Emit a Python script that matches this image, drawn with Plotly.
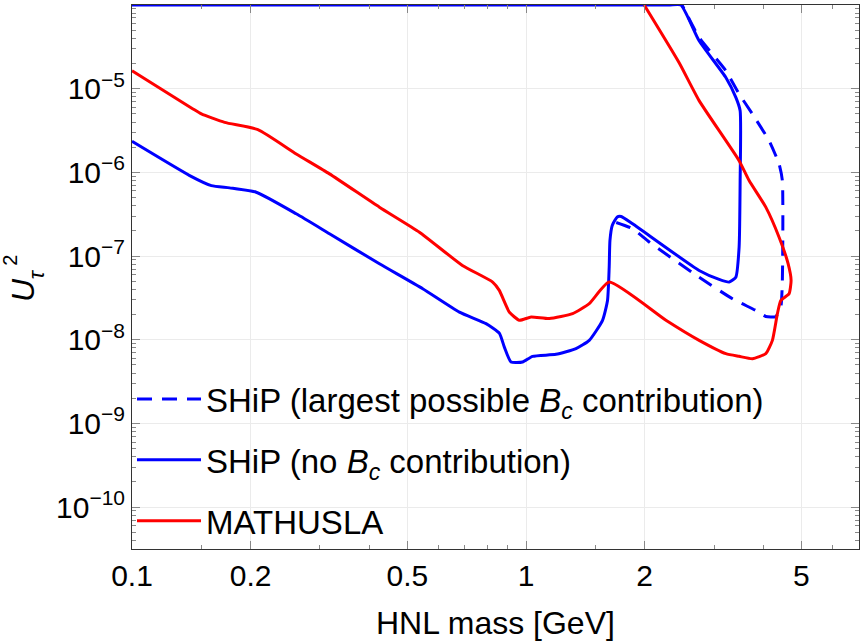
import plotly.graph_objects as go

# ---- data (HNL mass in GeV, U_tau^2) ----
ship_bc_mass = [1.694, 1.864, 2.054, 2.750, 3.341, 3.830, 4.06, 4.304, 4.432, 4.473,
                4.473, 4.388, 4.14, 3.755, 3.474, 3.215, 2.75, 2.49]
ship_bc_u2 = [2.52e-7, 2.12e-7, 1.47e-7, 5.6e-8, 3.09e-8, 2.24e-8, 1.9e-8, 1.89e-8, 2.45e-8, 5.12e-8,
              7.98e-7, 1.26e-6, 2.39e-6, 4.99e-6, 8.65e-6, 1.64e-5, 4.09e-5, 1e-4]

ship_mass = [0.1, 0.1401, 0.1590, 0.1769, 0.2067, 0.2611, 0.3171, 0.4246, 0.5468, 0.6775,
             0.7916, 0.8555, 0.881, 0.9161, 0.980, 1.039, 1.191, 1.339, 1.447, 1.564,
             1.610, 1.626, 1.633, 1.655, 1.704, 1.744, 1.864, 2.750, 3.091, 3.278,
             3.408, 3.474, 3.495, 3.495, 3.408, 3.215, 2.750, 2.472, 2.3, 0.1]
ship_u2 = [2.35e-6, 9.16e-7, 6.95e-7, 6.53e-7, 5.79e-7, 3.2e-7, 1.85e-7, 8.09e-8, 4.07e-8, 2.14e-8,
           1.56e-8, 1.2e-8, 8.18e-9, 5.42e-9, 5.42e-9, 6.34e-9, 6.7e-9, 7.83e-9, 9.84e-9, 1.71e-8,
           2.95e-8, 7.38e-8, 1.53e-7, 2.32e-7, 2.93e-7, 2.97e-7, 2.43e-7, 6.73e-8, 5.26e-8, 4.89e-8,
           5.6e-8, 1.28e-7, 7.98e-7, 5.46e-6, 7.88e-6, 1.36e-5, 3.74e-5, 1e-4, 1e-4, 1e-4]

mathusla_mass = [0.1, 0.1428, 0.150, 0.1718, 0.2087, 0.2611, 0.3171, 0.4246, 0.5364, 0.6895,
                 0.8229, 0.8555, 0.9072, 0.9616, 1.030, 1.146, 1.313, 1.447, 1.626, 2.265,
                 2.75, 3.215, 3.474, 3.755, 4.06, 4.22, 4.345, 4.432, 4.652, 4.707,
                 4.624, 4.388, 4.06, 3.683, 3.474, 2.750, 2.447, 1.995]
mathusla_u2 = [1.64e-5, 5.73e-6, 4.99e-6, 3.96e-6, 3.24e-6, 1.66e-6, 9.6e-7, 3.84e-7, 1.93e-7, 7.73e-8,
               4.89e-8, 3.89e-8, 2.14e-8, 1.71e-8, 1.87e-8, 1.79e-8, 2.05e-8, 2.70e-8, 4.89e-8, 1.71e-8,
               9.84e-9, 6.83e-9, 6.34e-9, 5.94e-9, 6.83e-9, 9.84e-9, 2.05e-8, 2.95e-8, 3.55e-8, 5.12e-8,
               8.17e-8, 1.68e-7, 3.84e-7, 7.98e-7, 1.38e-6, 7.2e-6, 2.04e-5, 1e-4]

x_tickvals = [0.1, 0.2, 0.5, 1, 2, 5]
x_ticktext = ["0.1", "0.2", "0.5", "1", "2", "5"]
x_minor = [0.15, 0.3, 0.4, 0.6, 0.7, 0.8, 0.9, 1.5, 3, 4, 6, 7]
y_tickvals = [1e-10, 1e-9, 1e-8, 1e-7, 1e-6, 1e-5]
y_ticktext = ["10<sup>\u221210</sup>", "10<sup>\u22129</sup>", "10<sup>\u22128</sup>",
              "10<sup>\u22127</sup>", "10<sup>\u22126</sup>", "10<sup>\u22125</sup>"]
y_minor = [k * 10.0 ** d for d in range(-11, -4) for k in range(2, 10)]

names = ["SHiP (largest possible <i>B<sub>c</sub></i> contribution)",
         "SHiP (no <i>B<sub>c</sub></i> contribution)",
         "MATHUSLA"]

FONT = "Liberation Sans, Arial, sans-serif"
BLUE = "#0000ff"
RED = "#ff0000"

fig = go.Figure()
fig.add_trace(go.Scatter(x=ship_bc_mass, y=ship_bc_u2, mode="lines", name=names[0],
                         legendgroup="a",
                         line=dict(color=BLUE, width=3, dash="15px,10px", shape="spline", smoothing=0.5)))
fig.add_trace(go.Scatter(x=ship_mass, y=ship_u2, mode="lines", name=names[1],
                         legendgroup="b",
                         line=dict(color=BLUE, width=3, shape="spline", smoothing=0.5)))
fig.add_trace(go.Scatter(x=mathusla_mass, y=mathusla_u2, mode="lines", name=names[2],
                         legendgroup="c",
                         line=dict(color=RED, width=3, shape="spline", smoothing=0.5)))

axis_common = dict(
    type="log", showline=True, linecolor="#333333", linewidth=1, mirror="allticks",
    ticks="inside", ticklen=8, tickcolor="#888888", tickwidth=1,
    showgrid=True, gridcolor="#ebebeb", gridwidth=1, zeroline=False,
    tickfont=dict(family=FONT, size=30, color="#000000"),
)

fig.update_layout(
    width=865, height=642,
    margin=dict(l=132, r=6, t=5, b=93),
    paper_bgcolor="white", plot_bgcolor="white",
    font=dict(family=FONT, color="#000000"),
    xaxis=dict(axis_common, range=[-1, 0.8451], tickmode="array",
               tickvals=x_tickvals, ticktext=x_ticktext,
               minor=dict(tickmode="array", tickvals=x_minor, ticks="inside", ticklen=4,
                          tickcolor="#888888", showgrid=False)),
    yaxis=dict(axis_common, range=[-10.5, -4.0], tickmode="array",
               tickvals=y_tickvals, ticktext=y_ticktext,
               minor=dict(tickmode="array", tickvals=y_minor, ticks="inside", ticklen=4,
                          tickcolor="#888888", showgrid=False)),
    showlegend=True,
    legend=dict(x=0, y=0, xanchor="left", yanchor="bottom", bgcolor="rgba(0,0,0,0)",
                font=dict(family=FONT, size=33, color="#000000"),
                traceorder="grouped", tracegroupgap=15, itemwidth=64),
)

# x-axis title
fig.add_annotation(text="HNL mass [GeV]", xref="paper", yref="paper", x=0.5, y=-0.136,
                   xanchor="center", yanchor="middle", showarrow=False,
                   font=dict(family=FONT, size=32, color="#000000"))
# y-axis title: U with stacked subscript tau and superscript 2
fig.add_annotation(text="<i>U</i>", xref="paper", yref="paper", x=-0.150, y=0.476,
                   xanchor="center", yanchor="middle", showarrow=False, textangle=-90,
                   font=dict(family=FONT, size=32, color="#000000"))
fig.add_annotation(text="2", xref="paper", yref="paper", x=-0.167, y=0.531,
                   xanchor="center", yanchor="middle", showarrow=False, textangle=-90,
                   font=dict(family=FONT, size=20, color="#000000"))
fig.add_annotation(text="<i>\u03c4</i>", xref="paper", yref="paper", x=-0.132, y=0.505,
                   xanchor="center", yanchor="middle", showarrow=False, textangle=-90,
                   font=dict(family=FONT, size=22, color="#000000"))

fig.write_html("out.html")
